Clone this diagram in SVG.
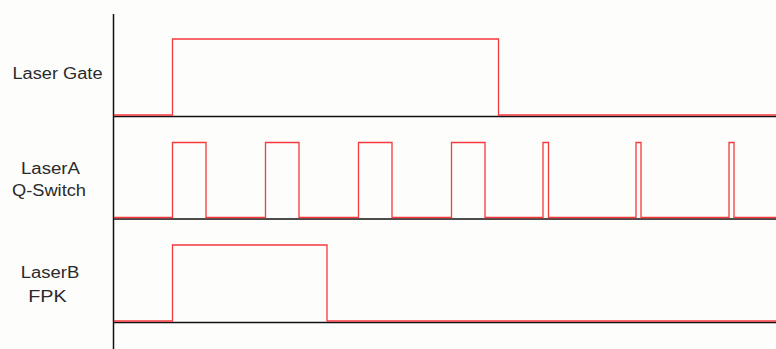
<svg xmlns="http://www.w3.org/2000/svg" width="776" height="349" viewBox="0 0 776 349">
<style>
.bg{fill:#fdfdfc}
.axis{stroke:#111;stroke-width:1.5;fill:none}
.wave{stroke:#f5393c;stroke-width:1.3;fill:none;stroke-linejoin:miter}
.lbl{font-family:"Liberation Sans",Arial,sans-serif;font-size:16px;fill:#2a2a2a;text-anchor:middle}
</style>
<rect class="bg" x="0" y="0" width="776" height="349"/>
<g id="axes">
<line class="axis" x1="113.5" y1="14" x2="113.5" y2="349"/>
<line class="axis" x1="113.5" y1="116.5" x2="776" y2="116.5"/>
<line class="axis" x1="113.5" y1="219" x2="776" y2="219"/>
<line class="axis" x1="113.5" y1="322.5" x2="776" y2="322.5"/>
</g>
<g id="laser-gate">
<text class="lbl" x="57.5" y="79" textLength="90" lengthAdjust="spacingAndGlyphs">Laser Gate</text>
<path class="wave" d="M114,115 H172.5 V39 H498.5 V115 H776"/>
</g>
<g id="laser-a">
<text class="lbl" x="50.5" y="174" textLength="59" lengthAdjust="spacingAndGlyphs">LaserA</text>
<text class="lbl" x="49" y="196" textLength="74" lengthAdjust="spacingAndGlyphs">Q-Switch</text>
<path class="wave" d="M114,217.5 H172.5 V142.5 H206 V217.5 H265.5 V142.5 H299 V217.5 H358.5 V142.5 H392 V217.5 H451.5 V142.5 H485 V217.5 H543 V142.5 H548.5 V217.5 H636 V142.5 H641 V217.5 H729 V142.5 H734 V217.5 H776"/>
</g>
<g id="laser-b">
<text class="lbl" x="50" y="277.5" textLength="58.5" lengthAdjust="spacingAndGlyphs">LaserB</text>
<text class="lbl" x="47.5" y="302" textLength="38.5" lengthAdjust="spacingAndGlyphs">FPK</text>
<path class="wave" d="M114,321 H172.5 V245 H327 V321 H776"/>
</g>
</svg>
